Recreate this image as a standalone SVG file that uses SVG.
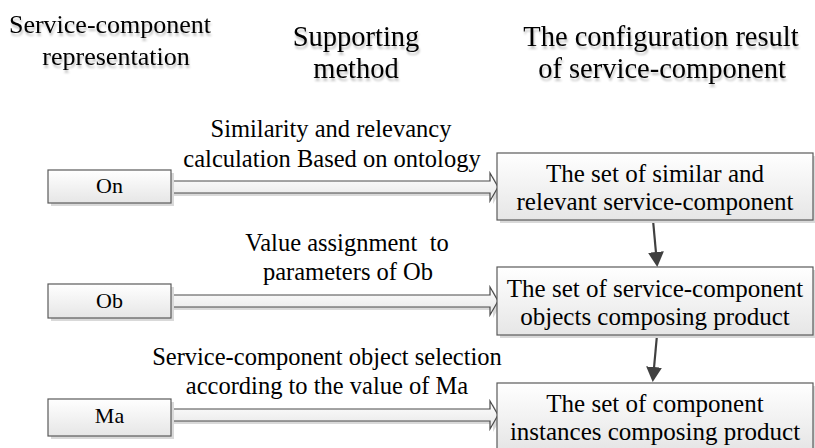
<svg xmlns="http://www.w3.org/2000/svg" width="815" height="448" viewBox="0 0 815 448">
<defs>
<linearGradient id="boxfill" x1="0" y1="0" x2="0" y2="1">
<stop offset="0" stop-color="#ffffff"/>
<stop offset="1" stop-color="#e6e6e6"/>
</linearGradient>
<filter id="tshadow" x="-10%" y="-20%" width="120%" height="160%">
<feGaussianBlur in="SourceAlpha" stdDeviation="1"/>
<feOffset dx="1" dy="3" result="b"/>
<feComponentTransfer><feFuncA type="linear" slope="0.25"/></feComponentTransfer>
<feMerge><feMergeNode/><feMergeNode in="SourceGraphic"/></feMerge>
</filter>
<marker id="ah" markerUnits="userSpaceOnUse" markerWidth="16" markerHeight="16" refX="3" refY="8" orient="auto">
<path d="M0,0 L15,8 L0,16 z" fill="#404040"/>
</marker>
</defs>
<style>
text{font-family:'Liberation Serif','Times New Roman',Times,serif;fill:#000;text-anchor:middle}
.title{font-size:28.5px}
.title1{font-size:26px}
.lbl{font-size:24.5px}
.bt{font-size:25px}
.st{font-size:22px}
.box{fill:url(#boxfill);stroke:#5a5a5a;stroke-width:1.2}
.shadow{fill:#d9d9d9}
.hollow{fill:url(#boxfill);stroke:#4a4a4a;stroke-width:1.2}
.conn{stroke:#404040;stroke-width:2.2;fill:none}
</style>
<g id="headers" filter="url(#tshadow)">
<text class="title1" x="110" y="33">Service-component</text>
<text class="title1" x="116" y="65">representation</text>
<text class="title" x="356" y="46">Supporting</text>
<text class="title" x="356" y="78">method</text>
<text class="title" x="661" y="46">The configuration result</text>
<text class="title" x="662" y="78">of service-component</text>
</g>
<g id="connectors">
<g id="arrow-on">
<polygon class="shadow" points="174,184 493,184 493,176 501,190 493,204 493,196 174,196"/>
<polygon class="hollow" points="171,181 490,181 490,173 498,187 490,201 490,193 171,193"/>
</g>
<g id="arrow-ob">
<polygon class="shadow" points="174,298 493,298 493,290 501,304 493,318 493,310 174,310"/>
<polygon class="hollow" points="171,295 490,295 490,287 498,301 490,315 490,307 171,307"/>
</g>
<g id="arrow-ma">
<polygon class="shadow" points="174,412 493,412 493,404 501,418 493,432 493,424 174,424"/>
<polygon class="hollow" points="171,409 490,409 490,401 498,415 490,429 490,421 171,421"/>
</g>
<line class="conn" x1="653" y1="220" x2="656.2" y2="255" marker-end="url(#ah)"/>
<line class="conn" x1="657" y1="335" x2="653.8" y2="370" marker-end="url(#ah)"/>
</g>
<g id="labels">
<text class="lbl" x="331" y="137">Similarity and relevancy</text>
<text class="lbl" x="332" y="167">calculation Based on ontology</text>
<text class="lbl" x="347" y="251" xml:space="preserve">Value assignment  to</text>
<text class="lbl" x="348" y="280">parameters of Ob</text>
<text class="lbl" x="327" y="365">Service-component object selection</text>
<text class="lbl" x="327" y="394">according to the value of Ma</text>
</g>
<g id="node-on">
<rect class="shadow" x="51" y="173" width="123" height="33"/>
<rect class="box" x="48" y="170" width="123" height="33"/>
<text class="st" x="109.5" y="193">On</text>
</g>
<g id="node-ob">
<rect class="shadow" x="51" y="287" width="123" height="34"/>
<rect class="box" x="48" y="284" width="123" height="34"/>
<text class="st" x="109.5" y="308">Ob</text>
</g>
<g id="node-ma">
<rect class="shadow" x="51" y="402" width="123" height="37"/>
<rect class="box" x="48" y="399" width="123" height="37"/>
<text class="st" x="109.5" y="423">Ma</text>
</g>
<g id="node-similar">
<rect class="shadow" x="500" y="156" width="316" height="67"/>
<rect class="box" x="497" y="153" width="316" height="67"/>
<text class="bt" x="655" y="182">The set of similar and</text>
<text class="bt" x="655" y="210">relevant service-component</text>
</g>
<g id="node-objects">
<rect class="shadow" x="500" y="270" width="316" height="68"/>
<rect class="box" x="497" y="267" width="316" height="68"/>
<text class="bt" x="655" y="297">The set of service-component</text>
<text class="bt" x="655" y="325">objects composing product</text>
</g>
<g id="node-instances">
<rect class="shadow" x="500" y="386" width="316" height="66"/>
<rect class="box" x="497" y="383" width="316" height="66"/>
<text class="bt" x="655" y="412">The set of component</text>
<text class="bt" x="655" y="440">instances composing product</text>
</g>
</svg>
